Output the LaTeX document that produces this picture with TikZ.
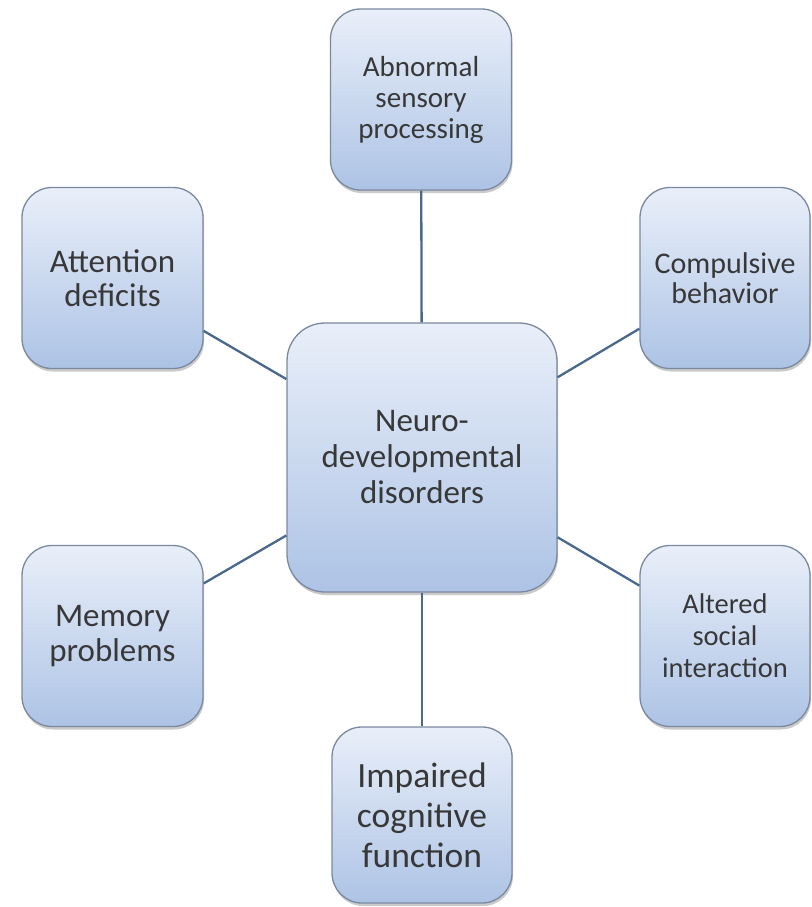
\documentclass[tikz,border=0pt]{standalone}
\usepackage{fontspec}
\setmainfont{Carlito}
\usetikzlibrary{shadows}
\definecolor{boxtop}{HTML}{E9EFF9}
\definecolor{boxbot}{HTML}{ADC3E5}
\definecolor{boxline}{HTML}{7A89A0}
\definecolor{conn}{HTML}{48698C}
\definecolor{txt}{HTML}{383838}
\begin{document}
\begin{tikzpicture}[x=1pt,y=-1pt,
 box/.style={draw=boxline, line width=1.3pt, rounded corners=30pt, top color=boxtop, bottom color=boxbot, text=txt, align=center, inner sep=0pt,
   drop shadow={shadow xshift=1pt, shadow yshift=-3pt, opacity=0.35, fill=black!60}},
 small/.style={minimum width=181pt, minimum height=181pt},
 narrow/.style={minimum width=170pt, minimum height=181pt},
 link/.style={draw=conn, line width=2.3pt}]
\useasboundingbox (0,0) rectangle (811,907);
\node[box, small, font=\fontsize{29}{31}\selectfont] (abn) at (421,99.5) {Abnormal\\sensory\\processing};
\node[box, small, font=\fontsize{33}{34}\selectfont] (att) at (112.5,278) {Attention\\deficits};
\node[box, narrow, font=\fontsize{30}{30}\selectfont] (com) at (725,278) {Compulsive\\behavior};
\node[box, minimum width=270pt, minimum height=269pt, rounded corners=38pt, font=\fontsize{33}{36}\selectfont] (neu) at (422,457.5) {Neuro-\\developmental\\disorders};
\node[box, small, font=\fontsize{33}{35}\selectfont] (mem) at (112.5,636) {Memory\\problems};
\node[box, narrow, font=\fontsize{28.5}{32}\selectfont] (alt) at (725,636) {Altered\\social\\interaction};
\node[box, minimum width=180pt, minimum height=176pt, font=\fontsize{35.5}{40}\selectfont] (imp) at (422,815) {Impaired\\cognitive\\function};
\draw[link] (abn) -- (neu);
\draw[link] (att) -- (neu);
\draw[link] (com) -- (neu);
\draw[link] (mem) -- (neu);
\draw[link] (alt) -- (neu);
\draw[link] (imp) -- (neu);
\end{tikzpicture}
\end{document}
